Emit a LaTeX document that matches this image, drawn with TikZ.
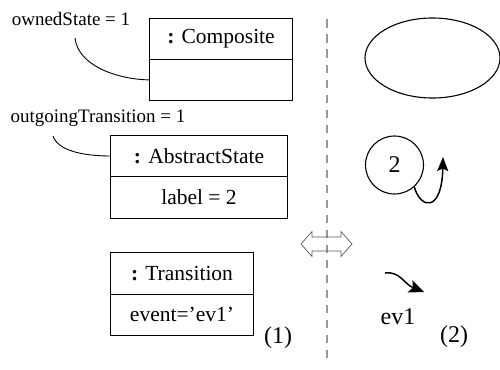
\documentclass[tikz,border=0pt]{standalone}
\usepackage{fontspec}
\setmainfont{Liberation Serif}
\usetikzlibrary{arrows.meta,shapes.geometric}
\begin{document}
\begin{tikzpicture}[x=1pt,y=-1pt,
  cell/.style={inner sep=0pt,font=\fontsize{21.5}{24}\selectfont},
  frame/.style={line width=1.1pt},
  lbl/.style={inner sep=0pt,font=\fontsize{19}{22}\selectfont},
  big/.style={inner sep=0pt,font=\fontsize{24}{28}\selectfont},
  leader/.style={line width=0.9pt},
  flow/.style={line width=1.5pt}]
\useasboundingbox (0,0) rectangle (500,369);
% divider
\draw[line width=2pt,color=black!40,dash pattern=on 8.5pt off 6.5pt] (326.7,19.5) -- (326.7,363);
% double arrow
\draw[line width=0.7pt,color=black!65] (301,244) -- (312,231.5) -- (312,237) -- (341,237) -- (341,231.5) -- (352,244)
  -- (341,256.5) -- (341,251) -- (312,251) -- (312,256.5) -- cycle;
% Composite
\node[cell,minimum width=142pt,minimum height=40pt] (comph) at (221,39) {\textbf{:} Composite};
\node[cell,minimum width=142pt,minimum height=41pt,anchor=north] (compb) at (comph.south) {};
\draw[frame] (comph.north west) rectangle (compb.south east);
\draw[frame] (comph.south west) -- (comph.south east);
% AbstractState
\node[cell,minimum width=176pt,minimum height=40pt] (absh) at (199,156) {\textbf{:} AbstractState};
\node[cell,minimum width=176pt,minimum height=42pt,anchor=north] (absb) at (absh.south) {label = 2};
\draw[frame] (absh.north west) rectangle (absb.south east);
\draw[frame] (absh.south west) -- (absh.south east);
% Transition
\node[cell,minimum width=142pt,minimum height=41pt] (trh) at (182,273.5) {\textbf{:} Transition};
\node[cell,minimum width=142pt,minimum height=41pt,anchor=north] (trb) at (trh.south) {event=’ev1’};
\draw[frame] (trh.north west) rectangle (trb.south east);
\draw[frame] (trh.south west) -- (trh.south east);
% labels
\node[lbl] (own) at (71,19) {ownedState = 1};
\node[lbl] (out) at (98,118) {outgoingTransition = 1};
\coordinate (ownc) at (75,38);
\coordinate (outc) at (53,136);
\draw[leader] (ownc) .. controls (78,66) and (118,79.5) .. (compb.west);
\draw[leader] (outc) .. controls (58,151) and (84,156) .. (absh.west);
\node[big] (one) at (278,338) {(1)};
% right side
\node[draw,line width=1.1pt,ellipse,minimum width=135pt,minimum height=80pt,inner sep=0pt] (comp2) at (432.5,58) {};
\node[draw,line width=1.1pt,circle,minimum size=58pt,inner sep=0pt,font=\fontsize{24}{28}\selectfont] (st) at (394.5,165) {2};
\coordinate (loopend) at (443,157);
\draw[flow,-{Stealth[length=14pt,width=11pt,inset=2.5pt]}] (st.-48) .. controls (421,210) and (442,212) .. (loopend);
\coordinate (evs) at (385,273);
\coordinate (eve) at (424,292);
\draw[flow,-{Stealth[length=15pt,width=13pt,inset=3pt]}] (evs) .. controls (400,271) and (404,284) .. (eve);
\node[big] (ev) at (398,317) {ev1};
\node[big] (two) at (454,337) {(2)};
\end{tikzpicture}
\end{document}
